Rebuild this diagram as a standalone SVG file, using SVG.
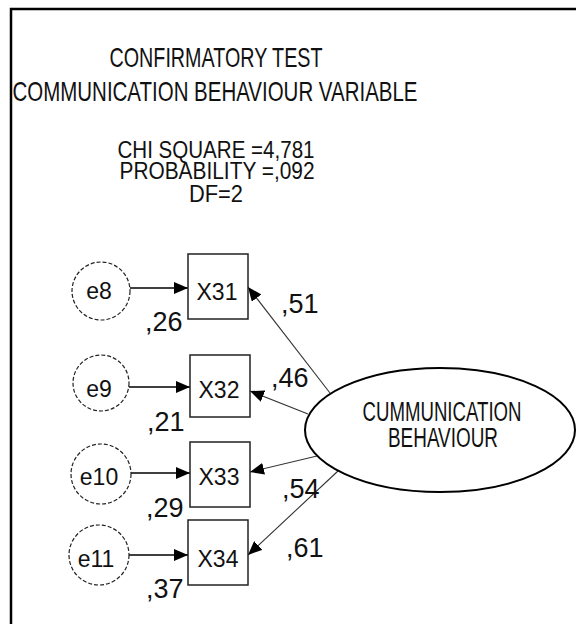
<svg xmlns="http://www.w3.org/2000/svg" width="576" height="624" viewBox="0 0 576 624">
<style>
text{font-family:"Liberation Sans",Arial,sans-serif;fill:#111}
.t{font-size:28px;text-anchor:middle}
.s{font-size:24px;text-anchor:middle}
.n{font-size:23px;text-anchor:middle}
.v{font-size:27px}
.lat{font-size:27px;text-anchor:middle}
.err{fill:#fff;stroke:#222;stroke-width:1.2;stroke-dasharray:4 2}
.box{fill:#fff;stroke:#222;stroke-width:1.5}
.ea{stroke:#000;stroke-width:1.6;fill:none}
.ld{stroke:#333;stroke-width:1.1;fill:none}
</style>
<defs>
<marker id="ah" markerUnits="userSpaceOnUse" markerWidth="14" markerHeight="12" viewBox="0 0 14 12" refX="14" refY="6" orient="auto">
<path d="M0,0 L14,6 L0,12 Z" fill="#000"/>
</marker>
</defs>
<rect width="576" height="624" fill="#fff"/>
<path d="M11,624 V9 H576" fill="none" stroke="#000" stroke-width="2.5"/>
<g id="title">
<text class="t" x="216" y="67" textLength="213" lengthAdjust="spacingAndGlyphs">CONFIRMATORY TEST</text>
<text class="t" x="215" y="101" textLength="405" lengthAdjust="spacingAndGlyphs">COMMUNICATION BEHAVIOUR VARIABLE</text>
</g>
<g id="stats">
<text class="s" x="216" y="158" textLength="197" lengthAdjust="spacingAndGlyphs">CHI SQUARE =4,781</text>
<text class="s" x="217" y="179" textLength="195" lengthAdjust="spacingAndGlyphs">PROBABILITY =,092</text>
<text class="s" x="216" y="202" textLength="54" lengthAdjust="spacingAndGlyphs">DF=2</text>
</g>
<g id="connectors">
<line class="ea" x1="130" y1="288" x2="188" y2="288" marker-end="url(#ah)"/>
<line class="ea" x1="129" y1="387" x2="190" y2="387" marker-end="url(#ah)"/>
<line class="ea" x1="131" y1="473" x2="190" y2="473" marker-end="url(#ah)"/>
<line class="ea" x1="129" y1="555" x2="188" y2="555" marker-end="url(#ah)"/>
<line class="ld" x1="330" y1="393" x2="248" y2="287" marker-end="url(#ah)"/>
<line class="ld" x1="308" y1="414" x2="250" y2="391" marker-end="url(#ah)"/>
<line class="ld" x1="317" y1="456" x2="250" y2="472" marker-end="url(#ah)"/>
<line class="ld" x1="338" y1="471" x2="248" y2="555" marker-end="url(#ah)"/>
</g>
<g id="e8"><circle class="err" cx="101" cy="291" r="29"/><text class="n" x="99" y="299">e8</text></g>
<g id="e9"><circle class="err" cx="101" cy="383" r="28"/><text class="n" x="99" y="397">e9</text></g>
<g id="e10"><circle class="err" cx="101" cy="474" r="30"/><text class="n" x="99" y="485">e10</text></g>
<g id="e11"><circle class="err" cx="99" cy="555" r="30"/><text class="n" x="96" y="567">e11</text></g>
<g id="X31"><rect class="box" x="188" y="254" width="60" height="65"/><text class="n" x="217" y="300">X31</text></g>
<g id="X32"><rect class="box" x="190" y="355" width="60" height="62"/><text class="n" x="219" y="398">X32</text></g>
<g id="X33"><rect class="box" x="190" y="442" width="60" height="65"/><text class="n" x="219" y="485">X33</text></g>
<g id="X34"><rect class="box" x="188" y="520" width="60" height="65"/><text class="n" x="218" y="567">X34</text></g>
<g id="behaviour">
<ellipse cx="440" cy="430" rx="135" ry="62" fill="#fff" stroke="#000" stroke-width="2"/>
<text class="lat" x="442" y="421" textLength="159" lengthAdjust="spacingAndGlyphs">CUMMUNICATION</text>
<text class="lat" x="443" y="447" textLength="110" lengthAdjust="spacingAndGlyphs">BEHAVIOUR</text>
</g>
<g id="labels">
<text class="v" x="145" y="331">,26</text>
<text class="v" x="147" y="431">,21</text>
<text class="v" x="146" y="517">,29</text>
<text class="v" x="146" y="598">,37</text>
<text class="v" x="281" y="313">,51</text>
<text class="v" x="271" y="387">,46</text>
<text class="v" x="282" y="498">,54</text>
<text class="v" x="286" y="557">,61</text>
</g>
</svg>
